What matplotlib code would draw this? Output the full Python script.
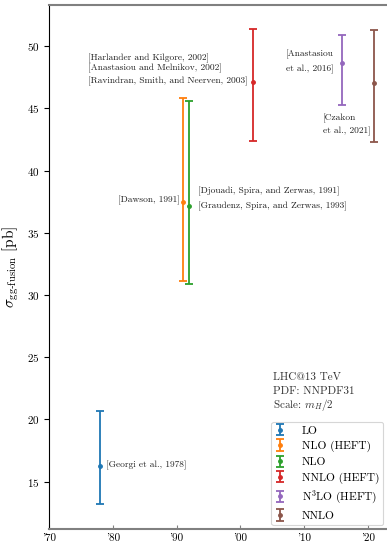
import numpy as np
import matplotlib
matplotlib.use('Agg')
import matplotlib.pyplot as plt

plt.rcParams['font.family'] = 'serif'
plt.rcParams['font.serif'] = ['cmr10', 'DejaVu Serif']
plt.rcParams['mathtext.fontset'] = 'cm'
plt.rcParams['axes.formatter.use_mathtext'] = True

# Cross sections (pb) by year of calculation
labels = ['LO', 'NLO (HEFT)', 'NLO', 'NNLO (HEFT)', r'N$^3$LO (HEFT)', 'NNLO']
years = [1978, 1991, 1992, 2002, 2016, 2021]
sigma = [16.3, 37.45, 37.15, 47.15, 48.6, 47.0]
sigma_lo = [13.2, 31.15, 30.85, 42.4, 45.3, 42.3]
sigma_hi = [20.65, 45.85, 45.6, 51.4, 50.85, 51.3]
colors = ['tab:blue', 'tab:orange', 'tab:green', 'tab:red', 'tab:purple', 'tab:brown']

xticks = [1970, 1980, 1990, 2000, 2010, 2020]
xticklabels = ["'70", "'80", "'90", "'00", "'10", "'20"]

fig = plt.figure(figsize=(3.87, 5.47), dpi=100)
ax = fig.add_axes([0.1266, 0.0329, 0.8734, 0.958])

for i in range(len(years)):
    err = [[sigma[i] - sigma_lo[i]], [sigma_hi[i] - sigma[i]]]
    ax.errorbar(years[i], sigma[i], yerr=err, fmt='o', ms=2.5, color=colors[i],
                capsize=3, elinewidth=1.3, capthick=1.3, label=labels[i])

fs = 6.8
tc = '#222222'
ax.text(1976.1, 49.05, '[Harlander and Kilgore, 2002]', fontsize=fs, va='center', color=tc)
ax.text(1976.1, 48.25, '[Anastasiou and Melnikov, 2002]', fontsize=fs, va='center', color=tc)
ax.text(1976.1, 47.2, '[Ravindran, Smith, and Neerven, 2003]', fontsize=fs, va='center', color=tc)
ax.text(1990.5, 37.6, '[Dawson, 1991]', fontsize=fs, va='center', ha='right', color=tc)
ax.text(1993.3, 38.3, '[Djouadi, Spira, and Zerwas, 1991]', fontsize=fs, va='center', color=tc)
ax.text(1993.3, 37.15, '[Graudenz, Spira, and Zerwas, 1993]', fontsize=fs, va='center', color=tc)
ax.text(2014.6, 49.3, '[Anastasiou', fontsize=fs, va='center', ha='right', color=tc)
ax.text(2014.6, 48.15, 'et al., 2016]', fontsize=fs, va='center', ha='right', color=tc)
ax.text(2012.9, 44.2, '[Czakon', fontsize=fs, va='center', color=tc)
ax.text(2012.9, 43.15, 'et al., 2021]', fontsize=fs, va='center', color=tc)
ax.text(1979.0, 16.3, '[Georgi et al., 1978]', fontsize=fs, va='center', color=tc)

info = ['LHC@13 TeV', 'PDF: NNPDF31', 'Scale: $m_H/2$']
for k, line in enumerate(info):
    ax.text(2005.2, 23.4 - 1.12 * k, line, fontsize=8, va='center', color='#333333')

ax.set_xlim(1970, 2023)
ax.set_ylim(11.2, 53.3)
ax.set_xticks(xticks)
ax.set_xticklabels(xticklabels)
ax.set_yticks([15, 20, 25, 30, 35, 40, 45, 50])
ax.tick_params(axis='both', labelsize=8)
ax.tick_params(axis='x', direction='in', length=3, color='gray')
ax.set_ylabel(r'$\sigma_{\mathrm{gg‐fusion}}$ [pb]', fontsize=11)

ax.spines['right'].set_visible(False)
ax.spines['top'].set_color('gray')
ax.spines['top'].set_linewidth(1.5)
ax.spines['bottom'].set_color('gray')
ax.spines['bottom'].set_linewidth(1.5)

leg = ax.legend(loc='lower right', fontsize=8.2, handlelength=0.8, borderpad=0.35,
                labelspacing=0.45, handletextpad=1.5, borderaxespad=0.35)
leg.get_frame().set_linewidth(0.8)

fig.savefig('out.png', dpi=100)
